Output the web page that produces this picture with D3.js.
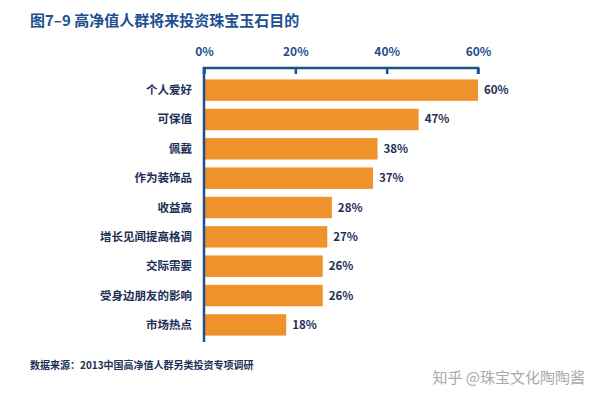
<!DOCTYPE html><html><head><meta charset="utf-8"><script src="https://d3js.org/d3.v7.min.js"></script>
<style>body{margin:0;background:#fff}text{font-family:"Noto Sans CJK SC","Noto Sans",sans-serif}</style></head><body><svg width="592" height="400"></svg><script>
const categories=["个人爱好","可保值","佩戴","作为装饰品","收益高","增长见闻提高格调","交际需要","受身边朋友的影响","市场热点"];
const values=[60,47,38,37,28,27,26,26,18];
const tickValues=[0,20,40,60];
const svg=d3.select("svg");
const blue="#1d4f91";
const x=d3.scaleLinear().domain([0,60]).range([204,478]);
const y=d3.scaleBand().domain(categories).range([75,340]).paddingInner(0.27).paddingOuter(0.15);
svg.append("text").attr("x",30).attr("y",26).attr("fill",blue).attr("font-size",15).attr("font-weight","bold").text("图7–9 高净值人群将来投资珠宝玉石目的");
svg.selectAll("rect").data(values).join("rect").attr("x",x(0)).attr("y",(d,i)=>y(categories[i])).attr("width",d=>x(d)-x(0)).attr("height",y.bandwidth()).attr("fill","#f0922b");
svg.selectAll(".v").data(values).join("text").attr("x",d=>x(d)+6).attr("y",(d,i)=>y(categories[i])+y.bandwidth()/2).attr("dy","0.35em").attr("font-size",11.5).attr("font-weight","bold").attr("fill","#1e2f55").text(d=>d+"%");
svg.selectAll(".c").data(categories).join("text").attr("x",192).attr("y",d=>y(d)+y.bandwidth()/2).attr("dy","0.35em").attr("text-anchor","end").attr("font-size",11.5).attr("font-weight","bold").attr("fill","#1e2f55").text(d=>d);
const ax=svg.append("g").attr("transform","translate(0,68)").call(d3.axisTop(x).tickValues(tickValues).tickFormat(d=>d+"%").tickSize(-6).tickPadding(12));
ax.select(".domain").attr("stroke",blue).attr("stroke-width",2.5).attr("d","M204,6V0H478V6");
ax.selectAll("line").attr("stroke",blue).attr("stroke-width",2.5);
ax.selectAll("text").attr("fill",blue).attr("font-size",12).attr("font-weight","bold");
svg.append("line").attr("x1",204).attr("x2",204).attr("y1",67).attr("y2",342).attr("stroke",blue).attr("stroke-width",2.5);
svg.append("text").attr("x",30).attr("y",369).attr("font-size",10).attr("font-weight","bold").attr("fill","#1e2f55").text("数据来源：2013中国高净值人群另类投资专项调研");
svg.append("text").attr("x",585).attr("y",383).attr("text-anchor","end").attr("font-size",15).attr("fill","#aaa").text("知乎 @珠宝文化陶陶酱");
</script></body></html>
